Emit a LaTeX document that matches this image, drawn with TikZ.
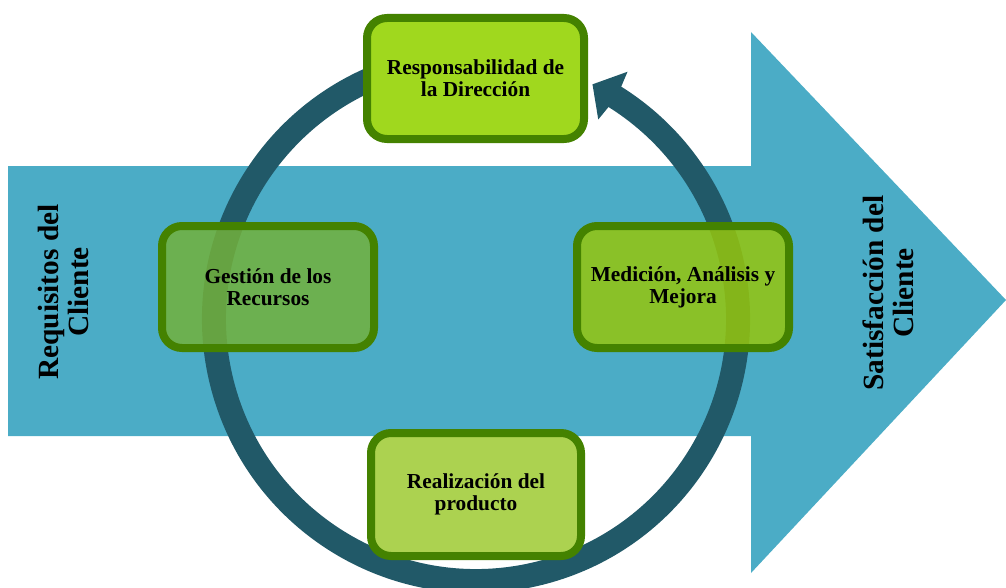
\documentclass[tikz,border=0pt]{standalone}
\usepackage{fontspec}
\setmainfont{Liberation Serif}
\usetikzlibrary{shadows,calc}
\definecolor{arrowblue}{RGB}{75,172,198}
\definecolor{ringteal}{RGB}{33,89,104}
\definecolor{boxborder}{RGB}{68,130,0}
\definecolor{topfill}{RGB}{160,216,30}
\definecolor{leftfill}{RGB}{114,180,56}
\definecolor{rightfill}{RGB}{151,202,5}
\definecolor{botfill}{RGB}{172,210,80}
\tikzset{
  procbox/.style={draw=boxborder, line width=6pt, rounded corners=15pt,
    align=center, font=\fontsize{16}{16.5}\selectfont\bfseries,
    drop shadow={opacity=0.25, shadow xshift=2pt, shadow yshift=-2pt}},
  sidelabel/.style={rotate=90, align=center, font=\fontsize{22}{22.5}\selectfont\bfseries}
}
\begin{document}
\begin{tikzpicture}[x=0.75pt,y=0.75pt]
\useasboundingbox (0,0) rectangle (1006,587);
% big arrow
\fill[arrowblue] (8,151) -- (8,421) -- (751,421) -- (751,555) -- (1006,287) -- (751,14) -- (751,151) -- cycle;
% ring
\coordinate (c) at (476,268);
\draw[ringteal, line width=18pt] (c) ++(105:262) arc[start angle=105, end angle=418.8, radius=262];
\fill[ringteal] ($(c)+(58.5:290)$) -- ($(c)+(63.6:262)$) -- ($(c)+(58.5:234)$) -- ($(c)+(58.0:250)$) -- ($(c)+(58.0:274)$) -- cycle;
% boxes
\node[procbox, fill=topfill, minimum width=162.75pt, minimum height=90.75pt] (resp) at (475.5,508.5) {Responsabilidad de\\la Dirección};
\node[procbox, fill=leftfill, fill opacity=0.8, text opacity=1, minimum width=159pt, minimum height=91.5pt] (gest) at (268,300) {Gestión de los\\Recursos};
\node[procbox, fill=rightfill, fill opacity=0.8, text opacity=1, minimum width=159pt, minimum height=91.5pt] (med) at (683,300) {Medición, Análisis y\\Mejora};
\node[procbox, fill=botfill, minimum width=157.5pt, minimum height=92.25pt] (real) at (476,92.5) {Realización del\\producto};
% side labels
\node[sidelabel] (req) at (63,295) {Requisitos del\\Cliente};
\node[sidelabel] (sat) at (888,294) {Satisfacción del\\Cliente};
\end{tikzpicture}
\end{document}
